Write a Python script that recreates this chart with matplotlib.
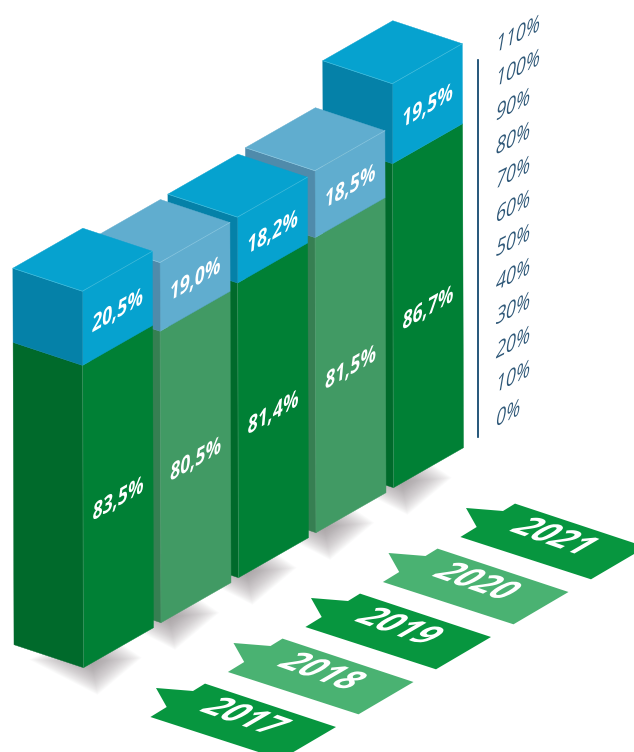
import numpy as np
import matplotlib
matplotlib.use('Agg')
import matplotlib.pyplot as plt
from matplotlib.patheffects import AbstractPathEffect
from matplotlib.transforms import Affine2D

plt.rcParams['font.family'] = ['Open Sans', 'DejaVu Sans']

# data
years = ['2017', '2018', '2019', '2020', '2021']
green_labels = ['83,5%', '80,5%', '81,4%', '81,5%', '86,7%']
blue_labels = ['20,5%', '19,0%', '18,2%', '18,5%', '19,5%']
# heights as they are drawn in the picture (2021 is drawn taller than its labels)
green_heights = [83.5, 80.5, 81.4, 81.5, 89.5]
blue_heights = [20.5, 19.0, 18.2, 18.5, 22.1]
axis_ticks = [0, 10, 20, 30, 40, 50, 60, 70, 80, 90, 100, 110]

# projection of the drawing, in pixels
ORIGIN = np.array([83.5, 667.7])
STEP = np.array([77.5, -45.0])
RIGHT = np.array([70.0, -40.0])
LEFT = np.array([-69.5, -23.0])
PX_PER_PCT = 3.62


def project(i, u=0.0, v=0.0, z=0.0):
    return ORIGIN + i * STEP + u * RIGHT + v * LEFT + np.array([-0.003, -1.0]) * z * PX_PER_PCT


colors_full = dict(front='#008035', side='#006a2b', blue='#06a2cf', blue_side='#0581a8',
                   line='#4fc3e0', flag='#07963f')
colors_pale = dict(front='#419a64', side='#367f52', blue='#60adcf', blue_side='#4f8bab',
                   line='#9ad0e6', flag='#4ab272')

# flag outline, relative to the tip of its tail
flag_outline = np.array([(0, 0), (37, 3), (49, -4.4), (180, 39), (125, 71.3), (-5.6, 29), (10.7, 19)])
FLAG_TIP = np.array([156.0, 688.0])

fig = plt.figure(figsize=(6.34, 7.52), dpi=100)
ax = fig.add_axes([0, 0, 1, 1])
ax.set_xlim(0, 634)
ax.set_ylim(752, 0)
ax.axis('off')


class Warp(AbstractPathEffect):
    # maps the glyph outlines onto a face of the drawing, the text stays text
    def __init__(self, x, y, ex, ey, rotation):
        super().__init__()
        px, py = ax.transData.transform((x, y))
        a = np.array([[ex[0], ey[0], 0], [ex[1], ey[1], 0], [0, 0, 1]], dtype=float)
        m = a @ Affine2D().rotate_deg(-rotation).get_matrix()
        self.tr = Affine2D().translate(-px, -py) + Affine2D(m) + Affine2D().translate(px, py)

    def draw_path(self, renderer, gc, tpath, affine, rgbFace=None):
        renderer.draw_path(gc, tpath, affine + self.tr, rgbFace)


def warped_text(x, y, s, ex, ey, rotation, ha='center', va='center', **kw):
    t = ax.text(x, y, s, ha=ha, va=va, rotation=rotation, rotation_mode='anchor', **kw)
    t.set_path_effects([Warp(x, y, ex, ey, rotation)])
    return t


def face(points, color, zorder):
    ax.fill(*np.array(points).T, color=color, lw=0.3, zorder=zorder)


def box(i, z0, z1, front, side, top, zorder):
    face([project(i, 0, 0, z0), project(i, 1, 0, z0), project(i, 1, 0, z1), project(i, 0, 0, z1)], front, zorder)
    face([project(i, 0, 0, z0), project(i, 0, 1, z0), project(i, 0, 1, z1), project(i, 0, 0, z1)], side, zorder)
    if top:
        face([project(i, 0, 0, z1), project(i, 1, 0, z1), project(i, 1, 1, z1), project(i, 0, 1, z1)], front, zorder)


# shear of the value labels on the front faces
label_ex = (0.97, 0.97 * np.tan(np.radians(30)))
label_ey = (0.12, 1.35)
# flags lie flat on the floor
flag_ex = 1.13 * np.array([0.95, -0.33])
flag_ey = (1.2, 0.7)

# bars from back to front
for i in range(len(years) - 1, -1, -1):
    c = colors_pale if i % 2 else colors_full
    zo = 10 + (len(years) - i) * 2
    g = green_heights[i]
    b = blue_heights[i]

    # soft shadow on the floor
    front = project(i)
    shadow = front + np.array([(-54, -8), (14, 27), (58, -10), (14, -40)])
    centre = front + np.array([8, -6])
    for s in np.linspace(1, 0.1, 26):
        ax.fill(*(centre + (shadow - centre) * s).T, color='#857c80', alpha=0.035, lw=0, zorder=zo - 1)

    box(i, 0, g, c['front'], c['side'], False, zo)
    box(i, g, g + b, c['blue'], c['blue_side'], True, zo)

    # thin light edges
    t = g + b
    ax.plot(*np.array([project(i, 0, 1, t), project(i, 0, 0, t), project(i, 1, 0, t)]).T,
            color=c['line'], lw=0.5, alpha=0.8, zorder=zo)
    ax.plot(*np.array([project(i, 0, 0, 0), project(i, 0, 0, g)]).T, color='#5fae80', lw=0.5, alpha=0.6, zorder=zo)

    # value labels lie on the front face
    p = project(i, 0.5, 0, g / 2) + (0, 3)
    warped_text(p[0], p[1], green_labels[i], label_ex, label_ey, 30, color='white', fontsize=13,
                fontweight='bold', zorder=30)
    p = project(i, 0.5, 0, g + b / 2) + (0, 3)
    warped_text(p[0], p[1], blue_labels[i], label_ex, label_ey, 30, color='white', fontsize=13,
                fontweight='bold', zorder=30)

    # year flags on the floor
    tip = FLAG_TIP + i * STEP
    ax.fill(*(tip + flag_outline).T, color=c['flag'], lw=0, zorder=5)
    warped_text(tip[0] + 86.5, tip[1] + 29.5, years[i], flag_ex, flag_ey, -19, color='white',
                fontsize=21, fontweight='bold', zorder=6)

# axis on the right
ax.plot([478, 478], [60, 437], color='#003a63', lw=1.2, zorder=3)
for v in axis_ticks:
    y = 427 - v * 3.4
    warped_text(495, y, f'{v}%', (0.92, 0.47), (0.22, 1.3), 27, ha='left', va='baseline',
                color='#2f5878', fontsize=13.5, zorder=3)

fig.savefig('out.png', dpi=100)
